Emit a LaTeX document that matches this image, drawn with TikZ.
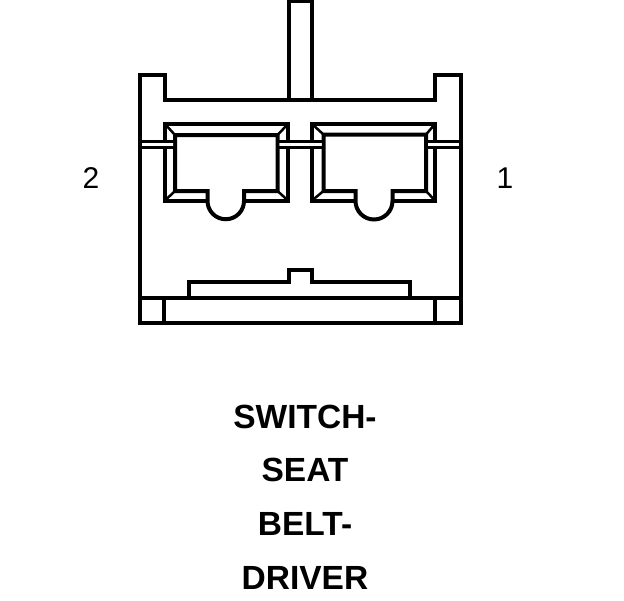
\documentclass[tikz,border=0pt]{standalone}
\usepackage{fontspec}
\setmainfont{Liberation Sans}
\begin{document}
\begin{tikzpicture}[x=1pt,y=-1pt]
  \tikzstyle{every path}=[line width=4pt,line join=miter]
  \tikzstyle{pinlabel}=[font=\fontsize{30}{30}\selectfont,inner sep=0pt]
  \tikzstyle{titleline}=[font=\bfseries\fontsize{33.5}{33.5}\selectfont,inner sep=0pt]
  \tikzstyle{thinline}=[line width=3pt]
  \tikzstyle{cornerline}=[line width=2.5pt]
  \useasboundingbox (0,0) rectangle (624,600);
  % housing and stem
  \draw (288.5,100) -- (288.5,0.5) -- (312,0.5) -- (312,100);
  \draw (139.5,322.5) -- (139.5,75) -- (165,75) -- (165,100) -- (435,100)
        -- (435,75) -- (460.5,75) -- (460.5,322.5) -- cycle;
  % bottom rail
  \draw (139.5,297.5) -- (460.5,297.5);
  \draw (164,297.5) -- (164,322.5)
        (435,297.5) -- (435,322.5);
  \draw (189,297.5) -- (189,282) -- (289,282) -- (289,270) -- (312,270)
        -- (312,282) -- (410,282) -- (410,297.5);
  % left cavity
  \draw (165,124) rectangle (288,200.5);
  \draw[fill=white] (175,191) -- (175,135) -- (277.5,135) -- (277.5,191) -- (244,191)
        -- (244,201) arc (0:180:18.25) -- (207.5,191) -- cycle;
  \draw[cornerline] (165,124) -- (175,135)
        (288,124) -- (277.5,135)
        (165,200.5) -- (175,191)
        (288,200.5) -- (277.5,191);
  % right cavity
  \draw (312,124) rectangle (435,200.5);
  \draw[fill=white] (323.5,191) -- (323.5,134.5) -- (426,134.5) -- (426,191) -- (392.5,191)
        -- (392.5,201) arc (0:180:18.5) -- (355.5,191) -- cycle;
  \draw[cornerline] (312,124) -- (323.5,134.5)
        (435,124) -- (426,134.5)
        (312,200.5) -- (323.5,191)
        (435,200.5) -- (426,191);
  % latch slots
  \fill[white] (142,143) rectangle (173,146)
               (279.5,143) rectangle (321.5,146)
               (428,143) rectangle (458,146);
  \draw[thinline] (140,141.5) -- (175,141.5)
        (140,147.5) -- (175,147.5)
        (277.5,141.5) -- (323.5,141.5)
        (277.5,147.5) -- (323.5,147.5)
        (426,141.5) -- (460,141.5)
        (426,147.5) -- (460,147.5);
  % labels
  \path (91,178.5) node[pinlabel] (pintwo) {2};
  \path (505,178.5) node[pinlabel] (pinone) {1};
  \path (305,417) node[titleline] (titlea) {SWITCH-};
  \path (305,470) node[titleline] (titleb) {SEAT};
  \path (305,524) node[titleline] (titlec) {BELT-};
  \path (305,578) node[titleline] (titled) {DRIVER};
\end{tikzpicture}
\end{document}
